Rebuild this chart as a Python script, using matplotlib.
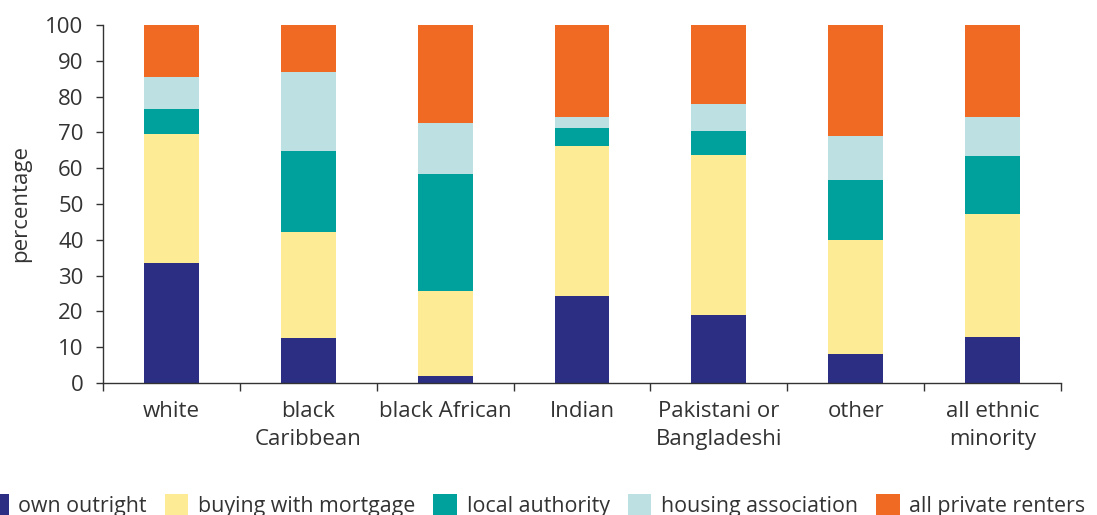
import matplotlib
matplotlib.use("Agg")
import matplotlib.pyplot as plt
import numpy as np
from matplotlib.patches import Patch

plt.rcParams['font.family'] = ['Open Sans', 'DejaVu Sans']

categories = ["white", "black\nCaribbean", "black African", "Indian",
              "Pakistani or\nBangladeshi", "other", "all ethnic\nminority"]
series_names = ["own outright", "buying with mortgage", "local authority",
                "housing association", "all private renters"]
own_outright = [33.5, 12.6, 2.0, 24.3, 19.0, 8.1, 12.8]
buying_with_mortgage = [36.0, 29.6, 23.7, 41.9, 44.7, 31.8, 34.4]
local_authority = [7.0, 22.6, 32.7, 5.0, 6.7, 16.8, 16.2]
housing_association = [9.0, 22.1, 14.2, 3.1, 7.5, 12.3, 10.9]
all_private_renters = [14.5, 13.1, 27.4, 25.7, 22.1, 31.0, 25.7]
series = [own_outright, buying_with_mortgage, local_authority,
          housing_association, all_private_renters]
colors = ["#2B2E83", "#FDEB96", "#00A19D", "#BDE0E2", "#F06A23"]

W, H = 1097, 515
fig = plt.figure(figsize=(W / 100, H / 100), dpi=100)
ax = fig.add_axes([103 / W, 1 - 383 / H, (1061 - 103) / W, (383 - 25) / H])

x = np.arange(len(categories))
bottom = np.zeros(len(categories))
for name, vals, c in zip(series_names, series, colors):
    ax.bar(x, vals, width=0.40, bottom=bottom, color=c, label=name, linewidth=0)
    bottom += np.array(vals)

ax.set_xlim(-0.5, len(categories) - 0.5)
ax.set_ylim(0, 100)
ax.set_yticks(np.arange(0, 101, 10))
ax.set_xticks(np.arange(-0.5, len(categories), 1.0))
ax.set_xticklabels([])
ax.set_xticks(x, minor=True)
ax.set_xticklabels(categories, minor=True, linespacing=1.45)

tc = "#333333"
ax.tick_params(axis='y', length=5, width=1, color=tc, labelcolor=tc,
               labelsize=16, pad=9)
ax.tick_params(axis='x', which='major', length=6, width=1, color=tc)
ax.tick_params(axis='x', which='minor', length=0, labelcolor=tc,
               labelsize=16, pad=13)
for s in ['top', 'right']:
    ax.spines[s].set_visible(False)
for s in ['left', 'bottom']:
    ax.spines[s].set_color(tc)
    ax.spines[s].set_linewidth(1)

ax.set_ylabel("percentage", fontsize=16, color=tc)
ax.yaxis.set_label_coords(-72 / (1061 - 103), 0.5)

handles = [Patch(facecolor=c, edgecolor='none') for c in colors]
fig.legend(handles, series_names, loc='upper left', ncol=5,
           bbox_to_anchor=(-15 / W, 1 - 494 / H), frameon=False,
           fontsize=15.4, handlelength=1.1, handleheight=1.1,
           handletextpad=0.45, columnspacing=0.85, borderpad=0,
           borderaxespad=0, labelcolor=tc)

fig.savefig("out.png", dpi=100)
